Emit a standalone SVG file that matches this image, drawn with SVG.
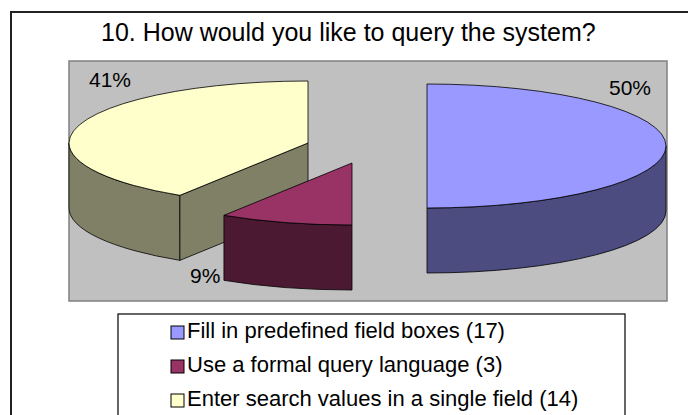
<svg xmlns="http://www.w3.org/2000/svg" width="688" height="415" viewBox="0 0 688 415">
<style>
text{font-family:"Liberation Sans",Arial,sans-serif;fill:#000}
.title{font-size:25px}
.lbl{font-size:21px}
.leg{font-size:22px}
.edge{stroke:#000;stroke-width:0.8;stroke-linejoin:round}
.sw{stroke:#000;stroke-width:1}
</style>
<rect x="0" y="0" width="688" height="415" fill="#fff"/>
<rect id="frame" x="11" y="12" width="700" height="420" fill="#fff" stroke="#222" stroke-width="2"/>
<text class="title" x="101" y="41">10. How would you like to query the system?</text>
<rect id="plot-area" x="69" y="61" width="598" height="240" fill="#C0C0C0" stroke="#808080" stroke-width="1.5"/>
<g id="slice-yellow">
<path class="edge" fill="#808066" d="M69,143 A239,62 0 0 0 179.9,195.35 L179.9,260.35 A239,62 0 0 1 69,208 Z"/>
<path class="edge" fill="#808066" d="M179.9,195.35 L308,143 L308,208 L179.9,260.35 Z"/>
<path class="edge" fill="#FFFFCC" d="M308,143 L308,81 A239,62 0 0 0 69,143 A239,62 0 0 0 179.9,195.35 Z"/>
</g>
<g id="slice-blue">
<path class="edge" fill="#4C4C80" d="M666,146 A239,62 0 0 1 427,208 L427,273 A239,62 0 0 0 666,211 Z"/>
<path class="edge" fill="#9999FF" d="M427,146 L427,84 A239,62 0 0 1 666,146 A239,62 0 0 1 427,208 Z"/>
</g>
<g id="slice-purple">
<path class="edge" fill="#4C1933" d="M223.94,215.35 A239,62 0 0 0 352,225 L352,290 A239,62 0 0 1 223.94,280.35 Z"/>
<path class="edge" fill="#993366" d="M352,163 L352,225 A239,62 0 0 1 223.94,215.35 Z"/>
</g>
<g id="data-labels">
<text class="lbl" x="89" y="87">41%</text>
<text class="lbl" x="609" y="95">50%</text>
<text class="lbl" x="190" y="283">9%</text>
</g>
<g id="legend">
<rect x="118" y="314" width="507" height="120" fill="#fff" stroke="#000" stroke-width="1.2"/>
<rect class="sw" x="171" y="326" width="13" height="13" fill="#9999FF"/>
<text class="leg" x="187" y="338">Fill in predefined field boxes (17)</text>
<rect class="sw" x="171" y="360" width="13" height="13" fill="#993366"/>
<text class="leg" x="187" y="372">Use a formal query language (3)</text>
<rect class="sw" x="171" y="394" width="13" height="13" fill="#FFFFCC"/>
<text class="leg" x="187" y="406">Enter search values in a single field (14)</text>
</g>
</svg>
